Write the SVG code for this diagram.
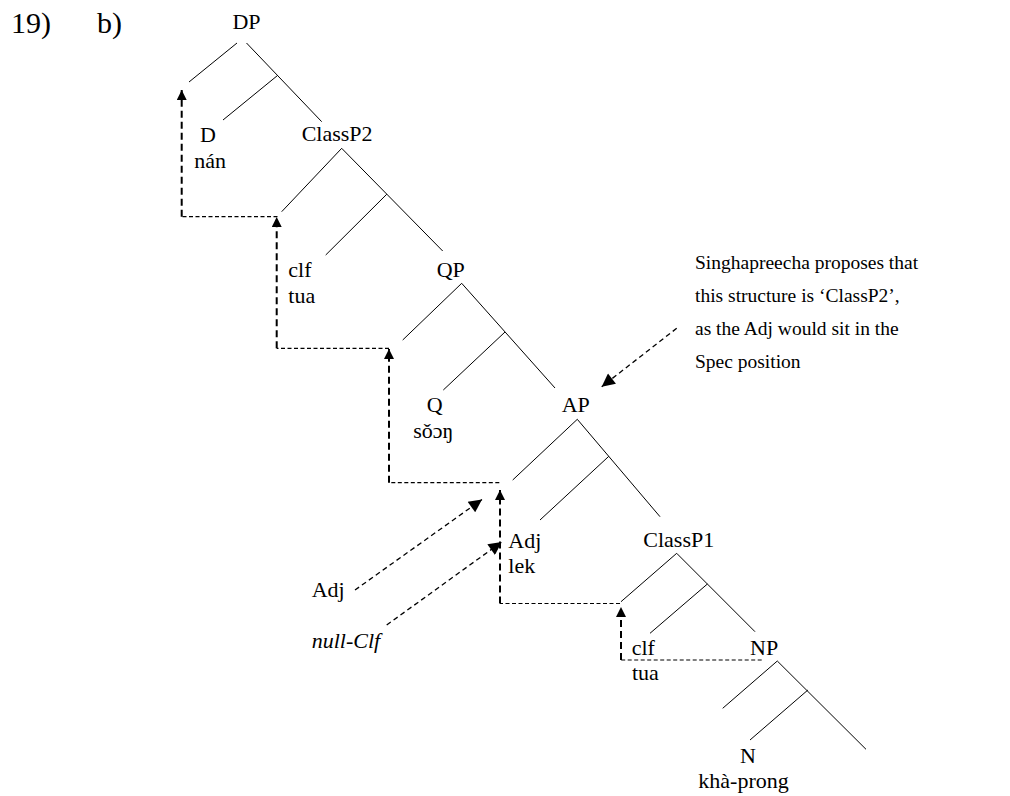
<svg xmlns="http://www.w3.org/2000/svg" width="1010" height="796" viewBox="0 0 1010 796" font-family="'Liberation Serif', Tinos, 'DejaVu Serif', serif">
  <defs>
    <!-- small head for the movement path, larger head for the pointer arrows -->
    <marker id="headS" markerUnits="userSpaceOnUse" viewBox="0 0 10 10" refX="10" refY="5" markerWidth="11" markerHeight="10" orient="auto">
      <path d="M0,0 L10,5 L0,10 z" fill="#000"/>
    </marker>
    <marker id="headL" markerUnits="userSpaceOnUse" viewBox="0 0 10 10" refX="10" refY="5" markerWidth="16" markerHeight="13" orient="auto">
      <path d="M0,0 L10,5 L0,10 z" fill="#000"/>
    </marker>
  </defs>
  <style>
    text { font-family: 'Liberation Serif', Tinos, 'DejaVu Serif', serif; fill: #000; }
    .lbl { font-size: 22px; }
    .note { font-size: 19.5px; }
    .num { font-size: 30px; }
    .br { stroke: #000; stroke-width: 1; fill: none; }
    .mv-v { stroke: #000; stroke-width: 2; stroke-dasharray: 7 4; fill: none; }
    .mv-h { stroke: #000; stroke-width: 1.2; stroke-dasharray: 4 2.5; fill: none; }
    .diag { stroke: #000; stroke-width: 1.3; stroke-dasharray: 5 3.5; fill: none; }
  </style>

  <rect width="1010" height="796" fill="#fff"/>

  <!-- example number -->
  <g id="header">
    <text class="num" x="11" y="33">19)</text>
    <text class="num" x="97" y="33">b)</text>
  </g>

  <!-- tree branches and movement arrows -->
  <g id="connectors">
    <g id="branches" class="br">
      <path d="M237,43 L189,82 M246.5,43 L321.7,121.7 M277.5,75.5 L223,120"/>
      <path d="M341.7,148.3 L281.7,211.7 M341.7,148.3 L442.7,251 M386.8,194.2 L325.7,255"/>
      <path d="M461.7,283.3 L402.7,340 M461.7,283.3 L555,388 M505,332 L443.3,390"/>
      <path d="M577.3,419.3 L512.7,480 M577.3,419.3 L660,516.7 M608.8,456.3 L540,520"/>
      <path d="M676.7,553.3 L621,601.7 M676.7,553.3 L755,631.7 M707.4,584 L650,633.3"/>
      <path d="M777.3,661 L722.7,708.3 M777.3,661 L866,749.3 M807.9,690 L750,740"/>
    </g>
    <g id="movement">
      <path class="mv-h" d="M761.7,660 H621"/>
      <path class="mv-v" d="M621,660 V607" marker-end="url(#headS)"/>
      <path class="mv-h" d="M620,603.5 H500"/>
      <path class="mv-v" d="M500,603.5 V490" marker-end="url(#headS)"/>
      <path class="mv-h" d="M499.3,482.7 H389"/>
      <path class="mv-v" d="M389,482.7 V349" marker-end="url(#headS)"/>
      <path class="mv-h" d="M389,348.3 H276.7"/>
      <path class="mv-v" d="M276.7,348.3 V217" marker-end="url(#headS)"/>
      <path class="mv-h" d="M277.5,216.7 H181.7"/>
      <path class="mv-v" d="M181.7,216.7 V90" marker-end="url(#headS)"/>
    </g>
    <g id="pointers" class="diag">
      <path d="M355,590 L482,499.5" marker-end="url(#headL)"/>
      <path d="M386.7,625 L501.7,542" marker-end="url(#headL)"/>
      <path d="M676.7,328.3 L601.7,386.7" marker-end="url(#headL)"/>
    </g>
  </g>

  <!-- nodes -->
  <g id="node-DP"><text class="lbl" x="246.5" y="29" text-anchor="middle">DP</text></g>
  <g id="node-D">
    <text class="lbl" x="200" y="141.7">D</text>
    <text class="lbl" x="194.3" y="168.3">nán</text>
  </g>
  <g id="node-ClassP2"><text class="lbl" x="301.7" y="140.7">ClassP2</text></g>
  <g id="node-clf-high">
    <text class="lbl" x="288.3" y="277.3">clf</text>
    <text class="lbl" x="288.3" y="303.3">tua</text>
  </g>
  <g id="node-QP"><text class="lbl" x="436.7" y="276.7">QP</text></g>
  <g id="node-Q">
    <text class="lbl" x="426.7" y="411.7">Q</text>
    <text class="lbl" x="413.3" y="438">sǒɔŋ</text>
  </g>
  <g id="node-AP"><text class="lbl" x="561.7" y="411.7">AP</text></g>
  <g id="node-Adj">
    <text class="lbl" x="508.3" y="548.3">Adj</text>
    <text class="lbl" x="508.3" y="573.3">lek</text>
  </g>
  <g id="node-ClassP1"><text class="lbl" x="643.3" y="546.7">ClassP1</text></g>
  <g id="node-clf-low">
    <text class="lbl" x="631.7" y="655">clf</text>
    <text class="lbl" x="632" y="680">tua</text>
  </g>
  <g id="node-NP"><text class="lbl" x="750" y="655">NP</text></g>
  <g id="node-N">
    <text class="lbl" x="740" y="762.7">N</text>
    <text class="lbl" x="698.3" y="787.7">khà-prong</text>
  </g>

  <!-- side labels -->
  <g id="label-Adj"><text class="lbl" x="311.7" y="597.3">Adj</text></g>
  <g id="label-null-Clf"><text class="lbl" x="311.7" y="648.3" font-style="italic">null-Clf</text></g>
  <g id="note">
    <text class="note" x="695" y="269">Singhapreecha proposes that</text>
    <text class="note" x="695" y="302">this structure is ‘ClassP2’,</text>
    <text class="note" x="695" y="335">as the Adj would sit in the</text>
    <text class="note" x="695" y="368">Spec position</text>
  </g>
</svg>
